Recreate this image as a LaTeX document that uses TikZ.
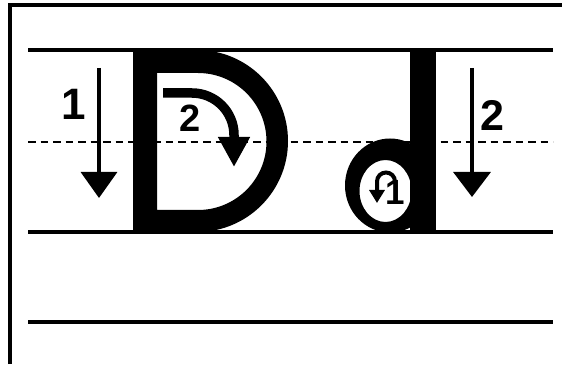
\documentclass[tikz,border=0pt]{standalone}
\usepackage{fontspec}
\setsansfont{Liberation Sans}
\usepackage{tikz}
\usetikzlibrary{arrows.meta, positioning, calc}

\begin{document}
\begin{tikzpicture}[x=1pt, y=1pt]
    \tikzset{
        guide line/.style={line width=3.4pt, black},
        mid line/.style={line width=2.4pt, black, dash pattern=on 7.5pt off 5pt},
        stroke arrow/.style={
                line width=3.4pt,
                -{Triangle[length=26pt, width=36pt]}
            },
        stroke number/.style={
                font=\sffamily\bfseries\fontsize{43}{43}\selectfont,
                inner sep=0pt, anchor=center
            }
    }
    \useasboundingbox (0,0) rectangle (562,364);

    % frame
    \draw[guide line] (10,0) -- (10,359) -- (562,359);

    % writing lines
    \draw[guide line] (28,314) -- (553,314);
    \draw[guide line] (28,132) -- (553,132);
    \draw[guide line] (28,42) -- (553,42);

    % letter D
    \fill[even odd rule]
    (133,314) -- (197,314) arc[start angle=90, end angle=-90, radius=91] -- (133,132) -- cycle
    (157,291) -- (198,291) arc[start angle=90, end angle=-90, radius=68.5] -- (157,154) -- cycle;

    % letter d
    \fill[even odd rule]
    (390,178.5) ellipse[x radius=45, y radius=47]
    (385.5,173) ellipse[x radius=26, y radius=31];
    \fill (410,132) rectangle (436,314);

    % dashed middle line
    \draw[mid line] (28,222) -- (553,222);

    % D strokes
    \coordinate (d1 top) at (99,296);
    \coordinate (d1 tip) at (99,166);
    \draw[stroke arrow] (d1 top) -- (d1 tip);
    \node[stroke number, font=\sffamily\bfseries\fontsize{44}{44}\selectfont] (d1 num) at (73.5,260) {1};

    \coordinate (d2 start) at (163,271);
    \coordinate (d2 tip) at (234,197);
    \draw[line width=9.5pt, -{Triangle[length=30pt, width=30pt]}]
    (d2 start) -- (192,271) arc[start angle=90, end angle=0, radius=42] -- (d2 tip);
    \node[stroke number, font=\sffamily\bfseries\fontsize{38}{38}\selectfont] (d2 num) at (190,245.5) {2};

    % d strokes
    \coordinate (b1 start) at (395,182.5);
    \coordinate (b1 tip) at (377,161);
    \draw[line width=4pt, black, -{Triangle[length=13pt, width=15pt]}]
    (b1 start) arc[start angle=0, end angle=180, radius=9] -- (b1 tip);
    \node[stroke number, font=\sffamily\bfseries\fontsize{35}{35}\selectfont] (b1 num) at (395,171.5) {1};

    \coordinate (b2 top) at (472,296);
    \coordinate (b2 tip) at (472,167);
    \draw[stroke arrow, -{Triangle[length=25pt, width=37pt]}] (b2 top) -- (b2 tip);
    \node[stroke number] (b2 num) at (492.5,248.5) {2};
\end{tikzpicture}
\end{document}
